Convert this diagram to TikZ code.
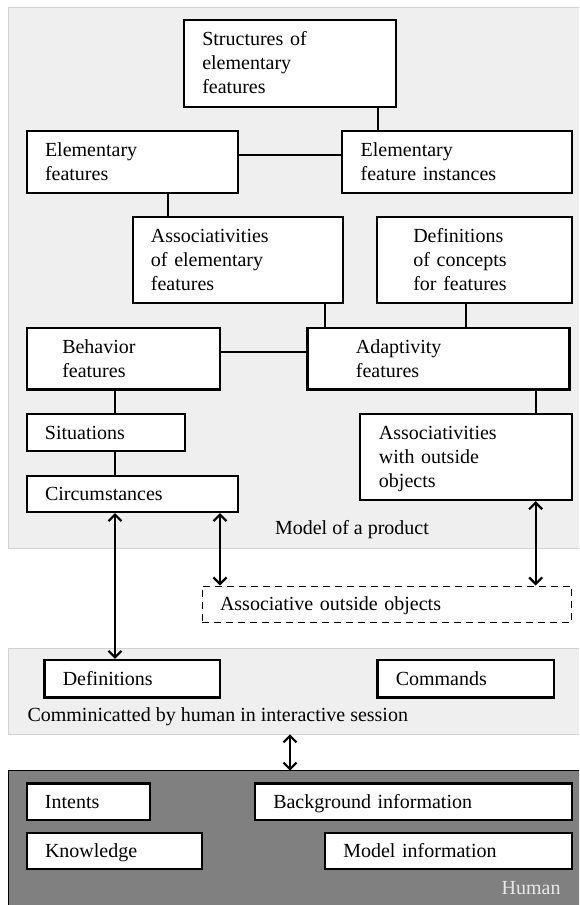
\documentclass[tikz,border=0pt]{standalone}
\usepackage{fontspec}
\setmainfont{Liberation Serif}
\usetikzlibrary{arrows.meta}
\definecolor{panelfill}{HTML}{EFEFEF}
\definecolor{panelline}{HTML}{D2D2D2}
\definecolor{humanfill}{HTML}{808080}
\definecolor{humantext}{HTML}{E8E8E8}
\newcommand\boxstrut{\rule[-5.5pt]{0pt}{24pt}}
\begin{document}
\begin{tikzpicture}[x=1pt,y=-1pt,
  box/.style={draw=black, line width=2.3pt, fill=white, align=left,
    font=\fontsize{20}{24}\selectfont, inner ysep=0pt, anchor=center,
    execute at begin node=\boxstrut, execute at end node=\boxstrut},
  dbox/.style={box, line width=0.9pt, dash pattern=on 7pt off 5pt},
  conn/.style={line width=2.2pt},
  biarrow/.style={line width=2.2pt,
    {Straight Barb[length=6.5pt,width=13pt]}-{Straight Barb[length=6.5pt,width=13pt]}},
  lbl/.style={font=\fontsize{20}{24}\selectfont, inner sep=0pt},
  panel/.style={fill=panelfill, draw=panelline, line width=1.5pt},
]
\useasboundingbox (0,0) rectangle (579,905);
\clip (0,0) rectangle (579,905);

% panels
\path[panel] (8.7,7.3) rectangle (600,548.3);
\path[panel] (8.7,648.3) rectangle (600,734.3);
\path[fill=humanfill, draw=black, line width=1.5pt] (8.7,770.7) rectangle (600,920);

% model of a product
\node[box, minimum width=212pt, minimum height=86.7pt, inner xsep=18pt, text width=176pt]
  (struct) at (290.3,63.3) {Structures of\\elementary\\features};
\node[box, minimum width=211.6pt, minimum height=62pt, inner xsep=18.3pt, text width=175pt]
  (elem) at (132.5,161.7) {Elementary\\features};
\node[box, minimum width=229.4pt, minimum height=62pt, inner xsep=18.4pt, text width=192.6pt]
  (inst) at (457,161.7) {Elementary\\feature instances};
\node[box, minimum width=210.3pt, minimum height=85.4pt, inner xsep=18.3pt, text width=173.7pt]
  (assoc) at (237.8,260) {Associativities\\of elementary\\features};
\node[box, minimum width=194.4pt, minimum height=85.4pt, inner xsep=36pt, text width=122.4pt]
  (defc) at (474.5,260) {Definitions\\of concepts\\for features};
\node[box, minimum width=193.3pt, minimum height=61.3pt, inner xsep=35.6pt, text width=122.1pt]
  (behav) at (123.3,358.7) {Behavior\\features};
\node[box, minimum width=262pt, minimum height=61.3pt, inner xsep=48.4pt, text width=165.2pt]
  (adapt) at (438.5,358.7) {Adaptivity\\features};
\node[box, minimum width=158.3pt, minimum height=37pt, inner xsep=18.3pt, text width=121.7pt]
  (sit) at (105.8,432.5) {Situations};
\node[box, minimum width=211.7pt, minimum height=86pt, inner xsep=19pt, text width=173.7pt]
  (aout) at (465.8,457) {Associativities\\with outside\\objects};
\node[box, minimum width=211.6pt, minimum height=36.3pt, inner xsep=18.3pt, text width=175pt]
  (circ) at (132.5,493.8) {Circumstances};
\node[lbl] (mlabel) at (352,530) {Model of a product};

% outside objects
\node[dbox, minimum width=369.4pt, minimum height=36.7pt, inner xsep=17.7pt, text width=334pt]
  (outside) at (387,604.3) {Associative outside objects};

% communicated panel
\node[box, minimum width=175.7pt, minimum height=37.3pt, inner xsep=18.4pt, text width=138.9pt]
  (defs) at (132.2,678.7) {Definitions};
\node[box, minimum width=176.7pt, minimum height=37.3pt, inner xsep=18.4pt, text width=139.9pt]
  (cmds) at (465.7,678.7) {Commands};
\node[lbl, anchor=west] (clabel) at (27.3,716.5) {Comminicatted by human in interactive session};

% human panel
\node[box, minimum width=123.3pt, minimum height=36.7pt, inner xsep=18.3pt, text width=86.7pt]
  (intents) at (88.3,801.7) {Intents};
\node[box, minimum width=316.7pt, minimum height=36.7pt, inner xsep=18.3pt, text width=280.1pt]
  (backg) at (413.3,801.7) {Background information};
\node[box, minimum width=175.6pt, minimum height=36.6pt, inner xsep=18.3pt, text width=139pt]
  (know) at (114.5,851) {Knowledge};
\node[box, minimum width=246.7pt, minimum height=36.6pt, inner xsep=18.3pt, text width=210.1pt]
  (minfo) at (448.3,851) {Model information};
\node[lbl, anchor=east, text=humantext] (hlabel) at (560.7,888.3) {Human};

% connector positions
\coordinate (v1) at (378,0);
\coordinate (v2) at (167.7,0);
\coordinate (v3) at (325,0);
\coordinate (v4) at (465.7,0);
\coordinate (v5) at (115,0);
\coordinate (v6) at (535.7,0);
\coordinate (v7) at (220,0);
\coordinate (h1) at (0,155);
\coordinate (h2) at (0,352.3);

% plain connectors
\draw[conn] (struct.south -| v1) -- (inst.north -| v1);
\draw[conn] (elem.east |- h1) -- (inst.west |- h1);
\draw[conn] (elem.south -| v2) -- (assoc.north -| v2);
\draw[conn] (assoc.south -| v3) -- (adapt.north -| v3);
\draw[conn] (defc.south -| v4) -- (adapt.north -| v4);
\draw[conn] (behav.east |- h2) -- (adapt.west |- h2);
\draw[conn] (behav.south -| v5) -- (sit.north -| v5);
\draw[conn] (sit.south -| v5) -- (circ.north -| v5);
\draw[conn] (adapt.south -| v6) -- (aout.north -| v6);

% double arrows
\draw[biarrow] (circ.south -| v5) -- (defs.north -| v5);
\draw[biarrow] (circ.south -| v7) -- (outside.north -| v7);
\draw[biarrow] (aout.south -| v6) -- (outside.north -| v6);
\coordinate (p1) at (290,734.3);
\coordinate (p2) at (290,770.7);
\draw[biarrow] (p1) -- (p2);
\end{tikzpicture}
\end{document}
